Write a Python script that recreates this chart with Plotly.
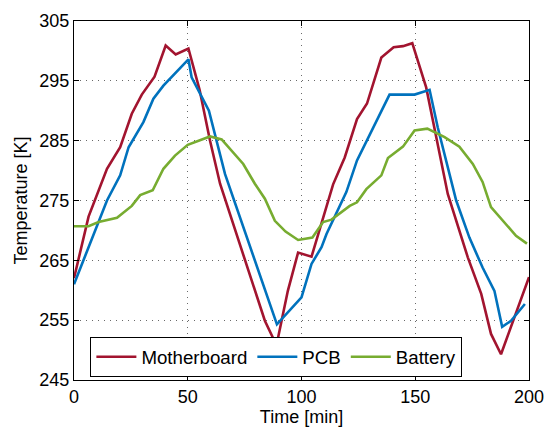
import plotly.graph_objects as go

# Motherboard
t_mb = [0, 6.4, 14.5, 20.3, 25.4, 29.8, 35.4, 40.3, 44.7, 50.3, 55.2, 59.8, 64.2, 83.9, 89.0,
        94.0, 98.5, 104.4, 113.9, 119.0, 124.4, 128.8, 135.1, 140.5, 144.6, 148.7, 154.8,
        164.3, 173.1, 179.0, 183.3, 187.7, 200.0]
T_mb = [262.0, 272.3, 280.3, 283.9, 289.5, 292.7, 295.7, 300.9, 299.4, 300.4, 293.5, 285.0, 277.8, 254.9, 250.8,
        259.9, 266.3, 265.6, 277.7, 282.2, 288.6, 291.2, 298.9, 300.6, 300.8, 301.3, 293.9,
        276.1, 265.5, 259.4, 252.7, 249.3, 262.2]

# PCB
t_pcb = [0, 14.5, 20.3, 24.0, 30.5, 34.9, 39.3, 50.3, 51.7, 59.3, 66.4, 89.2, 100.0, 104.4, 108.8,
         111.0, 119.7, 124.4, 138.7, 149.7, 156.3, 159.9, 168.0, 173.8, 179.6, 184.8, 188.2, 192.1, 198.2]
T_pcb = [261.0, 275.0, 279.2, 283.9, 288.1, 292.0, 294.2, 298.6, 295.6, 290.0, 279.4, 254.3, 258.8, 264.4, 267.2,
         269.4, 276.4, 281.7, 292.7, 292.7, 293.5, 287.2, 275.0, 268.8, 263.8, 259.9, 253.9, 254.9, 257.7]

# Battery
t_bat = [0, 6.4, 10.8, 18.9, 25.4, 29.1, 34.6, 39.3, 44.4, 50.0, 59.8, 64.9, 74.4, 79.5, 83.9, 88.3,
         93.0, 98.5, 104.8, 109.5, 113.2, 121.2, 124.4, 128.5, 135.1, 138.0, 144.6, 149.7, 155.3,
         162.9, 169.4, 175.3, 179.6, 183.3, 194.3, 199.1]
T_bat = [270.7, 270.7, 271.4, 272.1, 274.1, 275.9, 276.7, 280.3, 282.5, 284.3, 285.7, 285.2, 281.1, 277.8, 275.3, 271.6,
         269.8, 268.4, 268.8, 271.4, 271.8, 274.1, 274.7, 276.9, 279.2, 282.1, 284.0, 286.7, 287.0,
         285.6, 284.0, 281.1, 278.1, 273.9, 269.1, 267.8]

x_ticks = [0, 50, 100, 150, 200]
y_ticks = [245, 255, 265, 275, 285, 295, 305]

FONT = "Liberation Sans, Arial, sans-serif"

fig = go.Figure()
fig.add_trace(go.Scatter(x=t_mb, y=T_mb, mode="lines", name="Motherboard",
                         line=dict(color="#A2142F", width=2.6)))
fig.add_trace(go.Scatter(x=t_pcb, y=T_pcb, mode="lines", name="PCB",
                         line=dict(color="#0072BD", width=2.6)))
fig.add_trace(go.Scatter(x=t_bat, y=T_bat, mode="lines", name="Battery",
                         line=dict(color="#77AC30", width=2.6)))

axis_common = dict(
    showline=True, linecolor="black", linewidth=1.2, mirror="ticks",
    ticks="inside", ticklen=5, tickcolor="black", tickwidth=1,
    showgrid=True, gridcolor="#6a6a6a", griddash="1px,5px", gridwidth=1,
    zeroline=False, automargin=False,
    tickfont=dict(family=FONT, size=18, color="black"),
)

fig.update_layout(
    width=547, height=427,
    margin=dict(l=74, r=18, t=21, b=47),
    paper_bgcolor="white", plot_bgcolor="white",
    font=dict(family=FONT, size=18, color="black"),
    xaxis=dict(range=[0, 200], tickvals=x_ticks,
               title=dict(text="Time [min]", font=dict(family=FONT, size=18), standoff=0),
               **axis_common),
    yaxis=dict(range=[245, 305], tickvals=y_ticks,
               title=dict(text="Temperature [K]", font=dict(family=FONT, size=18), standoff=6),
               **axis_common),
    legend=dict(orientation="h", x=0.036, y=0.008, xanchor="left", yanchor="bottom",
                bgcolor="white", bordercolor="black", borderwidth=1,
                font=dict(family=FONT, size=18.7), itemwidth=40),
    showlegend=True,
)

fig.write_html("out.html")
